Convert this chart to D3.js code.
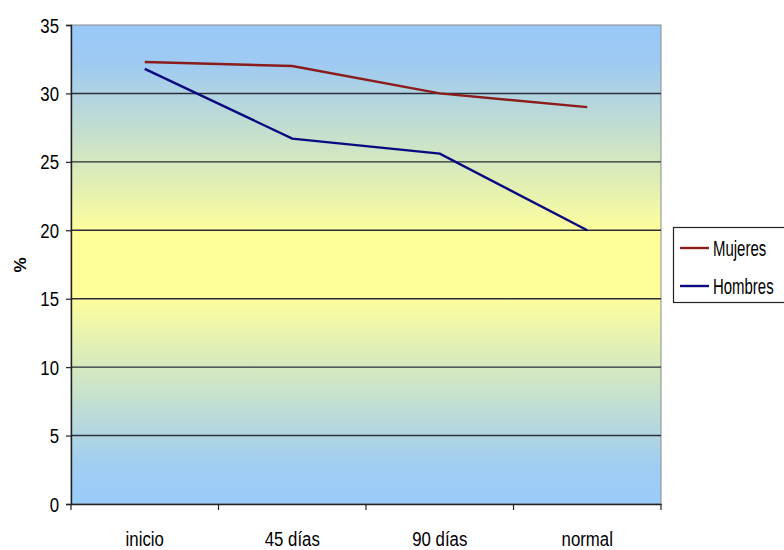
<!DOCTYPE html>
<html><head><meta charset="utf-8">
<script src="https://cdn.jsdelivr.net/npm/d3@7/dist/d3.min.js"></script>
<style>body{margin:0;background:#fff}svg text{font-family:"Liberation Sans Narrow","Liberation Sans",Arial,sans-serif;fill:#000}</style>
</head><body><svg id="c" width="784" height="550"></svg>
<script>
const categories = ["inicio", "45 días", "90 días", "normal"];
const mujeres = [32.3, 32.0, 30.0, 29.0];
const hombres = [31.8, 26.7, 25.6, 20.0];
const yTicks = [0, 5, 10, 15, 20, 25, 30, 35];
const seriesNames = ["Mujeres", "Hombres"];
const seriesColors = ["#8b1c1c", "#0a0a80"];

const svg = d3.select("#c");
const L = 71, R = 661, T = 25, B = 504;
const x = d3.scaleBand().domain(categories).range([L, R]);
const y = d3.scaleLinear().domain([0, 35]).range([B, T]);

function narrowText(parent, tx, ty, str, size, sx, anchor, dy) {
  const gg = parent.append("g").attr("transform", `translate(${tx},${ty}) scale(${sx},1)`);
  gg.append("text").attr("text-anchor", anchor).attr("dy", dy).attr("font-size", size).text(str);
  return gg;
}

const defs = svg.append("defs");
const g = defs.append("linearGradient").attr("id", "bg").attr("x1", 0).attr("y1", 0).attr("x2", 0).attr("y2", 1);
[["0%", "#99c8f8"], ["8%", "#9ecaf2"], ["44%", "#ffff99"], ["56%", "#ffff99"], ["92%", "#a0cdf2"], ["100%", "#99ccfb"]]
  .forEach(([o, c]) => g.append("stop").attr("offset", o).attr("stop-color", c));

svg.append("rect").attr("x", L).attr("y", T).attr("width", R - L).attr("height", B - T)
  .attr("fill", "url(#bg)").attr("stroke", "#8a8a8a").attr("stroke-width", 1);

// gridlines
svg.append("g").selectAll("line").data(yTicks.filter(d => d > 0 && d < 35)).join("line")
  .attr("x1", L).attr("x2", R).attr("y1", d => y(d)).attr("y2", d => y(d))
  .attr("stroke", "#2a2f3a").attr("stroke-width", 1.4);

// y axis
const ya = svg.append("g").attr("transform", `translate(${L},0)`)
  .call(d3.axisLeft(y).tickValues(yTicks).tickSize(5).tickFormat(""));
ya.select(".domain").attr("stroke", "#222").attr("stroke-width", 1.4);
ya.selectAll(".tick line").attr("stroke", "#222").attr("stroke-width", 1.2);
yTicks.forEach(t => narrowText(svg, 59, y(t), String(t), 21, 0.8, "end", "0.36em"));

// x axis
const xa = svg.append("g").attr("transform", `translate(0,${B})`)
  .call(d3.axisBottom(x).tickSize(0).tickFormat(""));
xa.select(".domain").attr("stroke", "#222").attr("stroke-width", 1.4);
svg.append("g").selectAll("line").data(categories.map(c => x(c)).concat([R])).join("line")
  .attr("x1", d => d).attr("x2", d => d).attr("y1", B).attr("y2", B + 6)
  .attr("stroke", "#222").attr("stroke-width", 1.2);
categories.forEach(c => narrowText(svg, x(c) + x.bandwidth() / 2, 546, c, 21, 0.8, "middle", 0));

// y label
svg.append("text").attr("transform", "translate(26,265) rotate(-90)")
  .attr("text-anchor", "middle").attr("font-size", 17).attr("font-weight", "bold").text("%");

// lines
const line = d3.line().x((d, i) => x(categories[i]) + x.bandwidth() / 2).y(d => y(d));
[mujeres, hombres].forEach((s, i) => {
  svg.append("path").datum(s).attr("d", line).attr("fill", "none")
    .attr("stroke", seriesColors[i]).attr("stroke-width", 2.4);
});

// legend
const lg = svg.append("g");
lg.append("rect").attr("x", 673.5).attr("y", 227.5).attr("width", 120).attr("height", 75)
  .attr("fill", "#fff").attr("stroke", "#222").attr("stroke-width", 1.2);
seriesNames.forEach((n, i) => {
  const yy = 248 + i * 38;
  lg.append("line").attr("x1", 680).attr("x2", 709).attr("y1", yy).attr("y2", yy)
    .attr("stroke", seriesColors[i]).attr("stroke-width", 2.4);
  narrowText(lg, 713, yy, n, 22, 0.68, "start", "0.36em");
});
</script></body></html>
